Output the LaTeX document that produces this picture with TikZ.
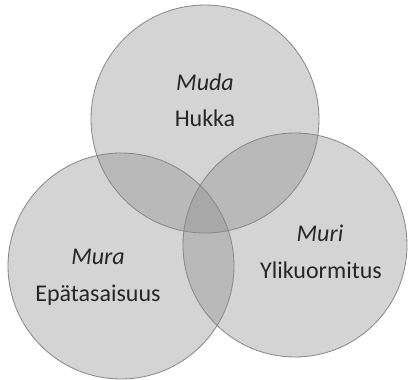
\documentclass[tikz,border=0pt]{standalone}
\usepackage{fontspec}
\setmainfont{Carlito}
\definecolor{vfill}{RGB}{139,139,139}
\definecolor{vedge}{RGB}{135,135,135}
\begin{document}
\begin{tikzpicture}[x=1pt,y=-1pt,
  venn/.style={fill=vfill,fill opacity=0.37,draw=vedge,line width=0.8pt},
  lbl/.style={font=\fontsize{24}{29}\selectfont,text=black!85,inner sep=0pt}]
\path[use as bounding box] (0,0) rectangle (408,380);
\fill[white] (0,0) rectangle (408,380);
\draw[venn] (205,119) circle (114);
\draw[venn] (121,266) circle (113);
\draw[venn] (295,245) circle (112);
\node[lbl] (muda) at (205,82) {\itshape Muda};
\node[lbl] (hukka) at (205,118) {Hukka};
\node[lbl] (mura) at (98,257) {\itshape Mura};
\node[lbl] (epa) at (98,295) {Epätasaisuus};
\node[lbl] (muri) at (320,233) {\itshape Muri};
\node[lbl] (yli) at (321,270) {Ylikuormitus};
\end{tikzpicture}
\end{document}
